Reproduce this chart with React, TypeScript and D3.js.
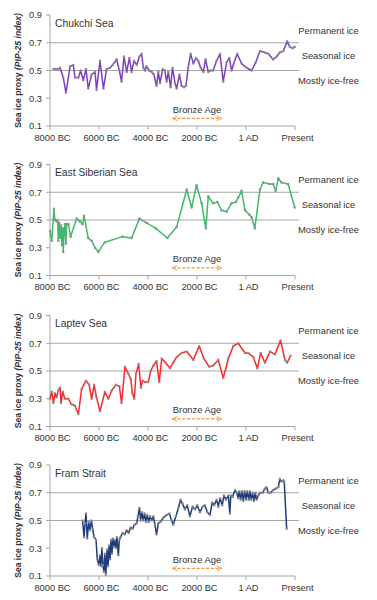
import React from "react";
import * as d3 from "d3";

const tickYears = [-8000, -6000, -4000, -2000, 0, 2000];
const tickLabels = ["8000 BC", "6000 BC", "4000 BC", "2000 BC", "1 AD", "Present"];
const yTicks = [0.1, 0.3, 0.5, 0.7, 0.9];
const zoneLines = [0.7, 0.5];
const zoneLabels = ["Permanent ice", "Seasonal ice", "Mostly ice-free"];
const zoneLabelValues = [0.79, 0.61, 0.43];
const seaNames = ["Chukchi Sea", "East Siberian  Sea", "Laptev  Sea", "Fram Strait"];
const seaColors = ["#7E3FBE", "#3DBB6A", "#FF2626", "#1F3C7E"];
const bronzeAge = [-3000, -1000];

const chukchi: [number, number][] = [
  [-7860, 0.51], [-7660, 0.51], [-7590, 0.52], [-7460, 0.45], [-7350, 0.34], [-7180, 0.53], [-7050, 0.54],
  [-6980, 0.45], [-6840, 0.45], [-6750, 0.5], [-6640, 0.43], [-6530, 0.51], [-6440, 0.37], [-6300, 0.47],
  [-6160, 0.49], [-6100, 0.36], [-5960, 0.57], [-5820, 0.37], [-5690, 0.51], [-5550, 0.52], [-5440, 0.54],
  [-5280, 0.58], [-5170, 0.5], [-5080, 0.42], [-4980, 0.6], [-4870, 0.49], [-4760, 0.59], [-4670, 0.49],
  [-4570, 0.57], [-4460, 0.54], [-4350, 0.6], [-4260, 0.62], [-4190, 0.52], [-4120, 0.5], [-4060, 0.53],
  [-3950, 0.5], [-3850, 0.49], [-3760, 0.47], [-3650, 0.39], [-3580, 0.49], [-3510, 0.41], [-3400, 0.51],
  [-3310, 0.5], [-3240, 0.42], [-3170, 0.49], [-3080, 0.38], [-3000, 0.52], [-2900, 0.41], [-2830, 0.37],
  [-2720, 0.47], [-2630, 0.39], [-2530, 0.38], [-2450, 0.39], [-2360, 0.52], [-2260, 0.62], [-2150, 0.55],
  [-2040, 0.59], [-1950, 0.57], [-1850, 0.52], [-1740, 0.49], [-1650, 0.58], [-1540, 0.49], [-1450, 0.5],
  [-1340, 0.5], [-1200, 0.57], [-1060, 0.62], [-930, 0.42], [-790, 0.56], [-680, 0.59], [-590, 0.5],
  [-520, 0.54], [-360, 0.62], [-180, 0.55], [20, 0.52], [230, 0.5], [400, 0.56], [570, 0.64], [770, 0.63],
  [910, 0.62], [1110, 0.58], [1250, 0.6], [1380, 0.63], [1520, 0.64], [1680, 0.71], [1790, 0.67],
  [1900, 0.66], [1990, 0.67],
];

const eastSiberian: [number, number][] = [
  [-8000, 0.42], [-7930, 0.35], [-7840, 0.58], [-7800, 0.5], [-7730, 0.49], [-7690, 0.5], [-7660, 0.35],
  [-7620, 0.48], [-7590, 0.37], [-7550, 0.46], [-7510, 0.32], [-7480, 0.44], [-7460, 0.27], [-7430, 0.4],
  [-7390, 0.47], [-7350, 0.33], [-7320, 0.47], [-7250, 0.47], [-7160, 0.38], [-6910, 0.51], [-6780, 0.49],
  [-6670, 0.47], [-6610, 0.53], [-6440, 0.37], [-6300, 0.35], [-6160, 0.3], [-6030, 0.27], [-5760, 0.34],
  [-5040, 0.38], [-4670, 0.37], [-4350, 0.51], [-4060, 0.48], [-3680, 0.44], [-3210, 0.37], [-2830, 0.45],
  [-2420, 0.72], [-2220, 0.59], [-2020, 0.75], [-1810, 0.62], [-1640, 0.44], [-1540, 0.67], [-1340, 0.62],
  [-1170, 0.63], [-1000, 0.57], [-790, 0.56], [-590, 0.62], [-410, 0.63], [-320, 0.66], [-180, 0.71],
  [-40, 0.57], [130, 0.54], [230, 0.52], [360, 0.44], [570, 0.72], [700, 0.77], [950, 0.76], [1110, 0.76],
  [1210, 0.71], [1320, 0.8], [1450, 0.77], [1720, 0.76], [1990, 0.59],
];

const laptev: [number, number][] = [
  [-8000, 0.3], [-7930, 0.35], [-7860, 0.27], [-7800, 0.34], [-7730, 0.31], [-7660, 0.36], [-7590, 0.38],
  [-7550, 0.27], [-7480, 0.35], [-7390, 0.3], [-7250, 0.3], [-7120, 0.26], [-6980, 0.25], [-6840, 0.19],
  [-6710, 0.37], [-6530, 0.43], [-6400, 0.4], [-6300, 0.3], [-6200, 0.4], [-6100, 0.31], [-5960, 0.21],
  [-5760, 0.35], [-5620, 0.3], [-5480, 0.36], [-5310, 0.4], [-5170, 0.39], [-5080, 0.27], [-4940, 0.53],
  [-4800, 0.48], [-4700, 0.44], [-4640, 0.34], [-4560, 0.3], [-4490, 0.48], [-4380, 0.55], [-4290, 0.38],
  [-4220, 0.43], [-4120, 0.42], [-3990, 0.42], [-3890, 0.5], [-3780, 0.54], [-3650, 0.57], [-3540, 0.42],
  [-3440, 0.59], [-3280, 0.56], [-3100, 0.52], [-2970, 0.56], [-2830, 0.6], [-2630, 0.63], [-2420, 0.64],
  [-2150, 0.58], [-1910, 0.68], [-1720, 0.59], [-1500, 0.53], [-1340, 0.54], [-1130, 0.58], [-930, 0.45],
  [-820, 0.52], [-720, 0.59], [-520, 0.68], [-320, 0.7], [-40, 0.63], [90, 0.63], [300, 0.6], [460, 0.52],
  [600, 0.63], [770, 0.56], [980, 0.64], [1180, 0.62], [1410, 0.72], [1590, 0.58], [1680, 0.56], [1820, 0.61],
];

const fram: [number, number][] = [
  [-6670, 0.5], [-6610, 0.38], [-6570, 0.48], [-6530, 0.55], [-6480, 0.37], [-6420, 0.49], [-6370, 0.43],
  [-6310, 0.5], [-6260, 0.44], [-6200, 0.38], [-6120, 0.36], [-6070, 0.22], [-6010, 0.18], [-5960, 0.25],
  [-5920, 0.17], [-5880, 0.3], [-5840, 0.18], [-5800, 0.13], [-5760, 0.26], [-5720, 0.11], [-5670, 0.29],
  [-5630, 0.17], [-5590, 0.32], [-5550, 0.22], [-5510, 0.36], [-5470, 0.26], [-5430, 0.37], [-5390, 0.31],
  [-5350, 0.36], [-5310, 0.3], [-5270, 0.38], [-5210, 0.25], [-5170, 0.36], [-5120, 0.38], [-5040, 0.41],
  [-4950, 0.4], [-4870, 0.43], [-4790, 0.41], [-4710, 0.45], [-4630, 0.44], [-4550, 0.47], [-4460, 0.48],
  [-4410, 0.53], [-4350, 0.59], [-4300, 0.5], [-4250, 0.56], [-4190, 0.5], [-4140, 0.55], [-4080, 0.49],
  [-4030, 0.54], [-3970, 0.49], [-3920, 0.53], [-3850, 0.5], [-3780, 0.53], [-3720, 0.47], [-3650, 0.4],
  [-3580, 0.48], [-3490, 0.49], [-3380, 0.52], [-3240, 0.54], [-3130, 0.55], [-3040, 0.5], [-2970, 0.47],
  [-2860, 0.53], [-2760, 0.59], [-2670, 0.65], [-2590, 0.62], [-2490, 0.58], [-2400, 0.61], [-2290, 0.53],
  [-2180, 0.6], [-2080, 0.58], [-1990, 0.61], [-1880, 0.56], [-1770, 0.6], [-1680, 0.61], [-1580, 0.56],
  [-1470, 0.54], [-1380, 0.63], [-1300, 0.61], [-1200, 0.65], [-1130, 0.6], [-1060, 0.66], [-970, 0.61],
  [-900, 0.68], [-820, 0.65], [-720, 0.68], [-660, 0.55], [-620, 0.68], [-550, 0.67], [-450, 0.72],
  [-380, 0.7], [-320, 0.66], [-280, 0.71], [-220, 0.65], [-170, 0.71], [-110, 0.64], [-60, 0.71], [0, 0.65],
  [50, 0.71], [110, 0.65], [160, 0.71], [210, 0.65], [270, 0.7], [320, 0.64], [380, 0.7], [430, 0.65],
  [500, 0.68], [570, 0.7], [680, 0.7], [770, 0.73], [840, 0.74], [910, 0.7], [1000, 0.7], [1110, 0.72],
  [1220, 0.73], [1320, 0.74], [1380, 0.8], [1450, 0.78], [1520, 0.79], [1560, 0.78], [1660, 0.44],
];

const seaSeries = [chukchi, eastSiberian, laptev, fram];

const W = 377;
const H = 600;
const panelTops = [15, 164.5, 315.5, 465];
const panelH = 111;
const FONT = "'Liberation Sans', Arial, sans-serif";

export default function App() {
  const x = d3.scaleLinear().domain([-8000, 2000]).range([50, 295]);
  const axisColor = "#A6A6A6";
  const textColor = "#333333";

  return (
    <svg
      width={W}
      height={H}
      viewBox={`0 0 ${W} ${H}`}
      style={{ position: "absolute", left: 0, top: 0, background: "#fff" }}
      fontFamily={FONT}
    >
      <defs>
        <marker id="arrowHead" viewBox="0 0 10 10" refX="9" refY="5" markerWidth="6" markerHeight="6" orient="auto-start-reverse" markerUnits="userSpaceOnUse">
          <path d="M1,1 L9,5 L1,9" fill="none" stroke="#F79646" strokeWidth="1.6" />
        </marker>
      </defs>
      <rect x={0} y={0} width={W} height={H} fill="#fff" />
      {seaSeries.map((series, i) => {
        const top = panelTops[i];
        const y = d3.scaleLinear().domain([0.1, 0.9]).range([top + panelH, top]);
        const line = d3
          .line<[number, number]>()
          .x((d) => x(d[0]))
          .y((d) => y(d[1]));
        const midY = (y(0.1) + y(0.9)) / 2;
        return (
          <g key={i}>
            {zoneLines.map((v) => (
              <line key={v} x1={50} x2={299} y1={y(v)} y2={y(v)} stroke={axisColor} strokeWidth={1} />
            ))}
            <line x1={50} x2={50} y1={y(0.9)} y2={y(0.1)} stroke={axisColor} strokeWidth={1} />
            <line x1={50} x2={295} y1={y(0.1)} y2={y(0.1)} stroke={axisColor} strokeWidth={1} />
            {yTicks.map((t) => (
              <g key={t}>
                <line x1={46} x2={50} y1={y(t)} y2={y(t)} stroke={axisColor} />
                <text x={42} y={y(t) + 3.3} textAnchor="end" fontSize={9.3} fill={textColor}>
                  {t.toFixed(1)}
                </text>
              </g>
            ))}
            {tickYears.map((t, k) => (
              <g key={t}>
                <line x1={x(t)} x2={x(t)} y1={y(0.1)} y2={y(0.1) + 4} stroke={axisColor} />
                <text x={x(t) + 2.5} y={y(0.1) + 14.5} textAnchor="middle" fontSize={9.3} fill={textColor}>
                  {tickLabels[k]}
                </text>
              </g>
            ))}
            <text
              transform={`translate(20.5,${midY}) rotate(-90)`}
              textAnchor="middle"
              fontSize={8.6}
              fontWeight="bold"
              fill={textColor}
            >
              <tspan>Sea ice proxy </tspan>
              <tspan fontStyle="italic">(PIP-25 index)</tspan>
            </text>
            <text x={55} y={y(0.9) + 11.8} fontSize={10.3} fill={textColor}>
              {seaNames[i]}
            </text>
            {zoneLabels.map((lab, k) => (
              <text key={lab} x={328.5} y={y(zoneLabelValues[k]) + 3.4} textAnchor="middle" fontSize={9.4} fill={textColor}>
                {lab}
              </text>
            ))}
            <text x={x((bronzeAge[0] + bronzeAge[1]) / 2)} y={y(0.195)} textAnchor="middle" fontSize={9.4} fill={textColor}>
              Bronze Age
            </text>
            <line
              x1={x(bronzeAge[0])}
              x2={x(bronzeAge[1])}
              y1={y(0.155)}
              y2={y(0.155)}
              stroke="#F79646"
              strokeWidth={1.4}
              strokeDasharray="3.2,1.6"
              markerStart="url(#arrowHead)"
              markerEnd="url(#arrowHead)"
            />
            <path d={line(series) || ""} fill="none" stroke={seaColors[i]} strokeWidth={1.5} strokeLinejoin="round" />
            {series.map((d, k) => (
              <circle key={k} cx={x(d[0])} cy={y(d[1])} r={1.3} fill="#8C8C8C" opacity={0.85} />
            ))}
          </g>
        );
      })}
    </svg>
  );
}
